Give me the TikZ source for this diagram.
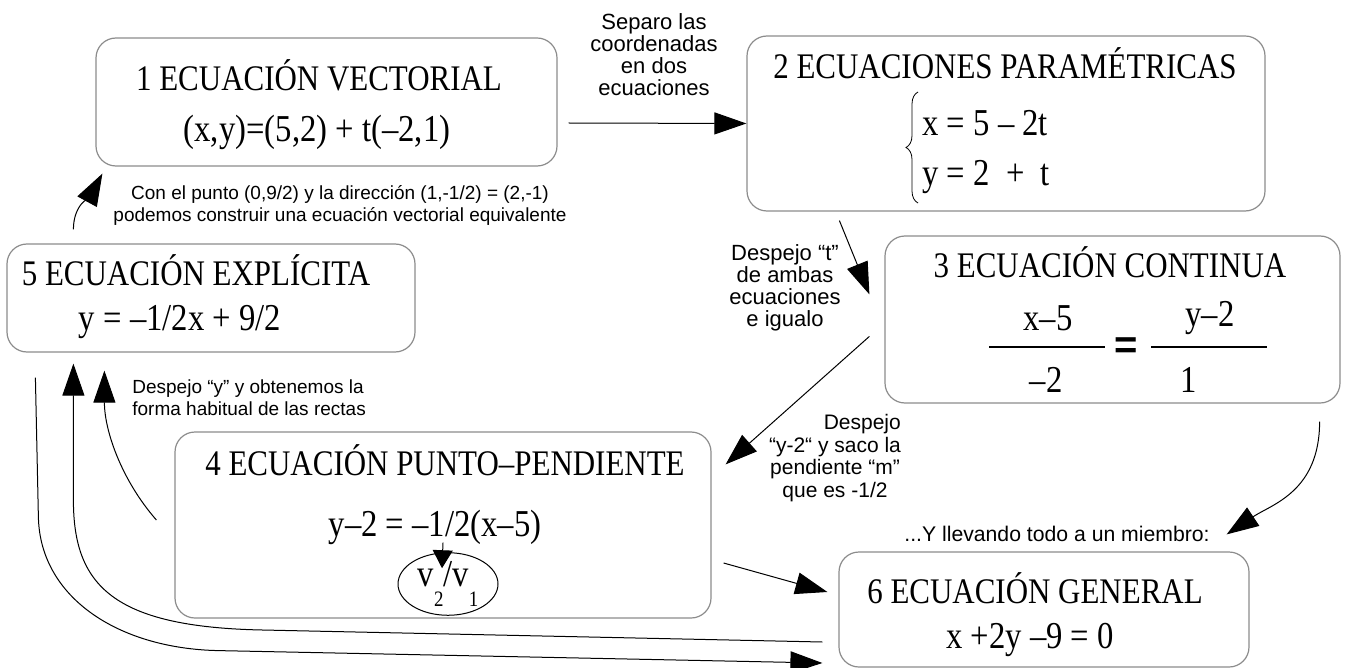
\documentclass[tikz,border=0pt]{standalone}
\usepackage{fontspec}
\setmainfont{Liberation Sans}
\newfontfamily\eqfont[FakeStretch=0.86]{Liberation Serif}
\usetikzlibrary{arrows.meta,calc,shapes.geometric,decorations.pathreplacing}

\tikzset{
  boxtitle/.style={font=\eqfont\fontsize{18}{20}\selectfont, inner sep=0pt},
  eqn/.style={font=\eqfont\fontsize{19}{22}\selectfont, inner sep=0pt},
  notetext/.style={font=\fontsize{9.5}{11}\selectfont, align=center, inner sep=0pt},
  bignote/.style={notetext, font=\fontsize{11}{11}\selectfont},
}
\newcommand{\lowsub}[1]{\raisebox{-1.1ex}{\fontsize{11}{11}\selectfont #1}}

\begin{document}
\begin{tikzpicture}[x=0.5pt, y=-0.5pt]
                \useasboundingbox (0,0) rectangle (1348,668);

                \begin{scope}[every node/.style = {draw=black!45, line width=0.6pt, rounded corners=10pt, inner sep=0pt}]
                    \node[minimum width=230.5pt, minimum height=64pt]   (b1) at (326.5, 102)  {};
                    \node[minimum width=259pt,   minimum height=87.5pt] (b2) at (1006, 123.5)  {};
                    \node[minimum width=227.5pt, minimum height=83.5pt] (b3) at (1112.5, 319.5) {};
                    \node[minimum width=268pt,   minimum height=93pt]   (b4) at (443, 525)    {};
                    \node[minimum width=204pt,   minimum height=54pt]   (b5) at (211, 298)    {};
                    \node[minimum width=205pt,   minimum height=57.5pt] (b6) at (1044, 609.5) {};
                \end{scope}

                % titulos y ecuaciones
                \node[boxtitle] (t1) at (319, 75)  {1 ECUACIÓN VECTORIAL};
                \node[eqn]      (f1) at (317, 132) {(x,y)=(5,2) + t(–2,1)};

                \node[boxtitle]          (t2) at (1005, 63) {2 ECUACIONES PARAMÉTRICAS};
                \node[eqn, anchor=west]  (x2) at (922, 123) {x = 5 – 2t};
                \node[eqn, anchor=west]  (y2) at (922, 177) {y = 2 \ + \ t};
                \draw[decorate, decoration={brace, amplitude=6pt}, line width=0.4pt] (918, 203) -- (918, 92);

                \node[boxtitle] (t3) at (1110, 262) {3 ECUACIÓN CONTINUA};
                \node[eqn] (n3a) at (1048, 318) {x–5};
                \node[eqn] (d3a) at (1046, 380) {–2};
                \node[eqn] (n3b) at (1210, 318) {y–2};
                \node[eqn] (d3b) at (1189, 380) {1};
                \node[font=\bfseries\fontsize{20}{20}\selectfont, inner sep=0pt] (e3) at (1126, 348) {=};
                \draw[line width=1.2pt] (989, 347) -- (1105, 347);
                \draw[line width=1.2pt] (1151, 347) -- (1267, 347);

                \node[boxtitle] (t4) at (445, 460) {4 ECUACIÓN PUNTO–PENDIENTE};
                \node[eqn]      (f4) at (435, 527) {y–2 = –1/2(x–5)};
                \node[eqn, draw, ellipse, line width=0.5pt, minimum width=50pt, minimum height=26pt]
                                (v4) at (448, 584) {v\lowsub{2}/v\lowsub{1}};

                \node[boxtitle] (t5) at (196, 270) {5 ECUACIÓN EXPLÍCITA};
                \node[eqn]      (f5) at (180, 322) {y = –1/2x + 9/2};

                \node[boxtitle] (t6) at (1035, 588) {6 ECUACIÓN GENERAL};
                \node[eqn]      (f6) at (1030, 640) {x +2y –9 = 0};

                % textos de las flechas
                \node[bignote]  (n12) at (654, 55)   {Separo las\\coordenadas\\en dos\\ecuaciones};
                \node[notetext] (n15) at (340, 205)  {Con el punto (0,9/2) y la dirección (1,-1/2) = (2,-1)\\podemos construir una ecuación vectorial equivalente};
                \node[bignote]  (n23) at (785, 288)  {Despejo “t”\\de ambas\\ecuaciones\\e igualo};
                \node[bignote, font=\fontsize{10.5}{11.2}\selectfont] (n34) at (835, 458) {\hspace*{2.6em}Despejo\\“y-2“ y saco la\\pendiente “m”\\que es -1/2};
                \node[bignote, font=\fontsize{10.6}{11}\selectfont] (n36) at (1057, 534) {...Y llevando todo a un miembro:};
                \node[notetext, anchor=west, align=left] (n45) at (132, 398) {Despejo “y” y obtenemos la\\forma habitual de las rectas};

                \begin{scope}[>={Triangle[length=16pt, width=11pt]}, line width=0.5pt]
                     \draw [->] ($(b1.east)+(11,21)$) -- (b2.west);
                     \draw [->] ($(b2.south west)+(93,9)$) -- ($(b3.north west)+(-15,59)$);
                     \draw [->] ($(b3.north west)+(-15,101)$) -- ($(b4.north east)+(14,33)$);
                     \draw [->] ($(b3.south east)+(-21,18)$) .. controls +(0,70) and +(45,-30) .. ($(b6.north east)+(-23,-17)$);
                     \draw [->] ($(b4.east)+(12,38)$) -- ($(b6.west)+(-11,-17.5)$);
                     \draw [->] ($(b4.west)+(-18,-5)$) .. controls +(-35,-40) and +(0,60) .. ($(b5.south west)+(98,18)$);
                     \draw [->] ($(b6.west)+(-16,32.5)$) -- ++(-560,-12) .. controls +(-150,-3) and +(0,85) .. ++(-189,-130) -- ($(b5.south west)+(67,11)$);
                     \draw [->] ($(b5.south west)+(29,25)$) -- ++(3,140) .. controls +(2,80) and +(-100,-2) .. ++(180,133) -- ($(b6.west)+(-16,53.5)$);
                     \draw [->] ($(b5.north west)+(67,-14)$) .. controls +(0,-25) and +(-12,22) .. ($(b1.south west)+(7,7)$);
                     \draw [-{Triangle[length=9pt, width=10pt]}] ($(f4.south)+(8,-2)$) -- ($(v4.north)+(-6,16)$);
                \end{scope}
            \end{tikzpicture}
\end{document}
